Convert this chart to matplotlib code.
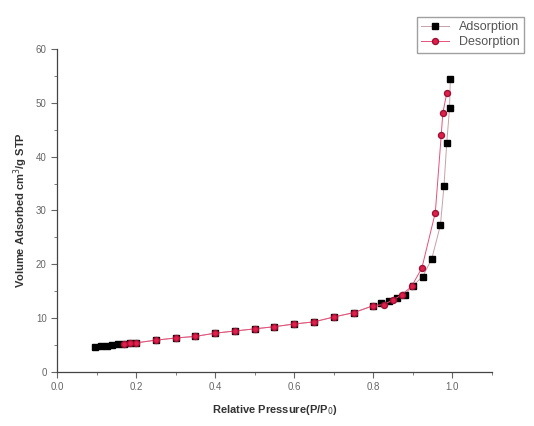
import numpy as np
import matplotlib.pyplot as plt
from matplotlib.ticker import MultipleLocator

plt.rcParams['font.family'] = ['Liberation Sans', 'DejaVu Sans']

# Adsorption branch
ads_p = [0.095, 0.11, 0.125, 0.14, 0.155, 0.17, 0.185, 0.20, 0.25, 0.30, 0.35,
         0.40, 0.45, 0.50, 0.55, 0.60, 0.65, 0.70, 0.75, 0.80, 0.82, 0.84,
         0.86, 0.88, 0.90, 0.925, 0.948, 0.970, 0.979, 0.986, 0.993, 0.995]
ads_v = [4.6, 4.8, 4.9, 5.0, 5.1, 5.2, 5.3, 5.4, 5.9, 6.3, 6.6,
         7.2, 7.6, 8.0, 8.4, 8.9, 9.3, 10.2, 11.0, 12.3, 12.8, 13.2,
         13.8, 14.3, 16.0, 17.7, 21.0, 27.3, 34.6, 42.6, 49.0, 54.5]

# Desorption branch
des_p = [0.986, 0.976, 0.972, 0.957, 0.923, 0.897, 0.872, 0.851, 0.826, 0.80,
         0.75, 0.70, 0.65, 0.60, 0.55, 0.50, 0.45, 0.40, 0.35, 0.30, 0.25,
         0.20, 0.185, 0.17]
des_v = [51.8, 48.1, 44.0, 29.6, 19.3, 15.9, 14.3, 13.4, 12.5, 12.3,
         11.0, 10.2, 9.3, 8.9, 8.4, 8.0, 7.6, 7.2, 6.6, 6.3, 5.9,
         5.4, 5.3, 5.2]

fig = plt.figure(figsize=(5.34, 4.26), dpi=100)
ax = fig.add_axes([0.107, 0.127, 0.814, 0.758])

ax.plot(ads_p, ads_v, '-', color='#c8a0a8', lw=0.7, marker='s', ms=3.8,
        mfc='black', mec='black', label='Adsorption')
ax.plot(des_p, des_v, '-', color='#e8507a', lw=0.7, marker='o', ms=4.3,
        mfc='#e0204a', mec='#a01035', label='Desorption')

ax.set_xlim(0.0, 1.1)
ax.set_ylim(0, 60)
ax.xaxis.set_major_locator(MultipleLocator(0.2))
ax.xaxis.set_minor_locator(MultipleLocator(0.1))
ax.yaxis.set_major_locator(MultipleLocator(10))
ax.yaxis.set_minor_locator(MultipleLocator(5))
ax.tick_params(which='both', direction='out', colors='#666666', labelsize=7)
ax.tick_params(which='major', length=4)
ax.tick_params(which='minor', length=2)
ax.xaxis.set_major_formatter(plt.FuncFormatter(lambda v, _: f'{v:.1f}'))

for s in ['top', 'right']:
    ax.spines[s].set_visible(False)
for s in ['left', 'bottom']:
    ax.spines[s].set_color('#444444')
    ax.spines[s].set_linewidth(0.9)

ax.set_xlabel('Relative Pressure(P/P$_0$)', fontsize=8, fontweight='bold',
              color='#333333', labelpad=8)
ax.set_ylabel('Volume Adsorbed cm$^3$/g STP', fontsize=8, fontweight='bold',
              color='#333333')

leg = fig.legend(loc='upper right', bbox_to_anchor=(0.993, 0.975), fontsize=9,
                 frameon=True, fancybox=False, edgecolor='#888888',
                 borderpad=0.35, labelspacing=0.25, handlelength=2.2)
for t in leg.get_texts():
    t.set_color('#555555')

fig.savefig('out.png', dpi=100)
